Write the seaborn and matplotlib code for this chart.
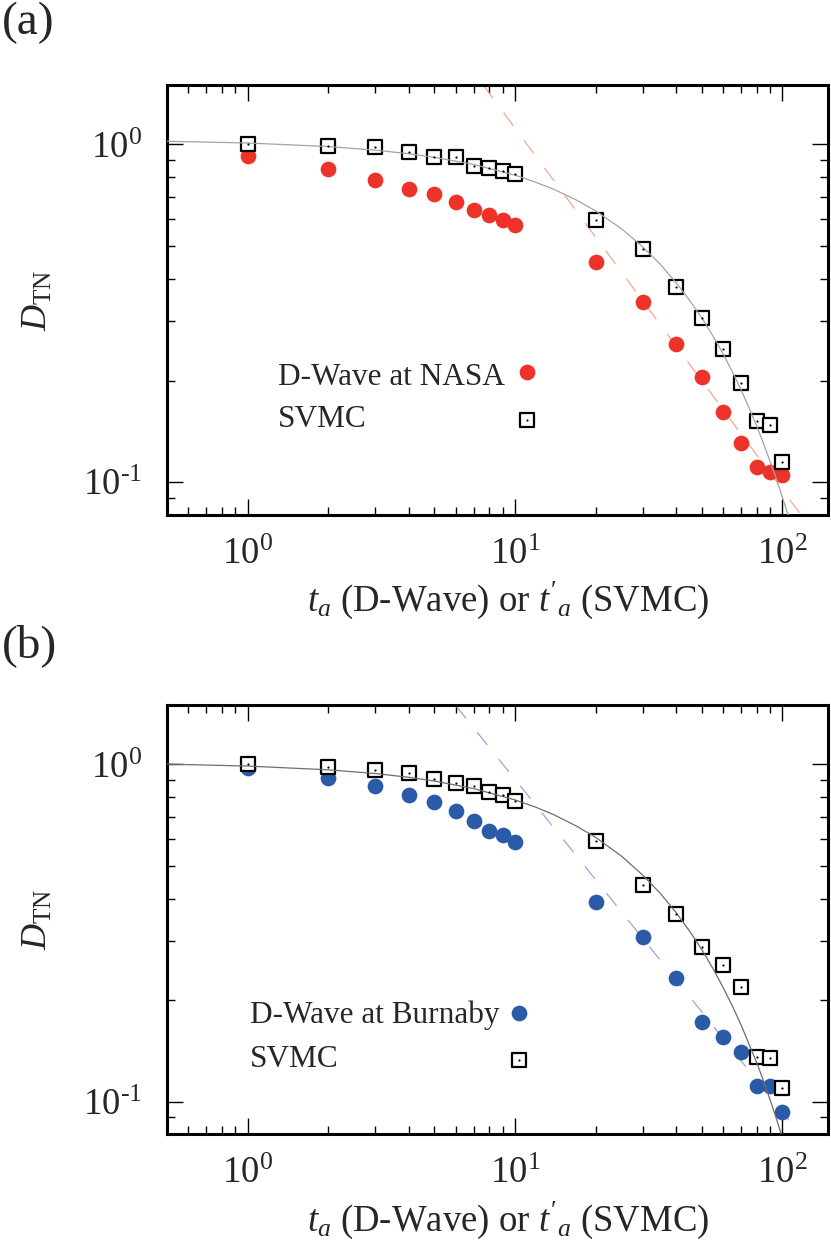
import numpy as np
import matplotlib
matplotlib.use("Agg")
import matplotlib.pyplot as plt
import matplotlib.ticker as mticker
import seaborn as sns

# DATA

t_vals = [1, 2, 3, 4, 5, 6, 7, 8, 9, 10, 20, 30, 40, 50, 60, 70, 80, 90, 100]

nasa_dtn = [0.923, 0.847, 0.783, 0.737, 0.714, 0.674, 0.640, 0.620, 0.596, 0.576,
            0.449, 0.342, 0.256, 0.205, 0.161, 0.131, 0.111, 0.107, 0.105]
svmc_a_dtn = [1.000, 0.990, 0.980, 0.950, 0.921, 0.917, 0.866, 0.853, 0.837, 0.818,
              0.599, 0.491, 0.379, 0.307, 0.248, 0.197, 0.152, 0.148, 0.115]

burnaby_dtn = [0.973, 0.909, 0.862, 0.811, 0.776, 0.728, 0.680, 0.634, 0.617, 0.588,
               0.392, 0.308, 0.233, 0.172, 0.156, 0.140, 0.111, 0.111, 0.093]
svmc_b_dtn = [1.000, 0.982, 0.962, 0.946, 0.906, 0.882, 0.862, 0.827, 0.811, 0.777,
              0.592, 0.440, 0.361, 0.288, 0.255, 0.219, 0.136, 0.135, 0.110]

# solid grey curves through the SVMC points
fit_a_x = [0.5, 1, 2, 3, 4, 5, 7, 10, 12, 14, 17, 20, 25, 30, 35, 40, 45, 50,
           55, 60, 65, 70, 75, 80, 85, 90, 95, 100, 106]
fit_a_y = [1.022, 1.010, 0.986, 0.962, 0.939, 0.916, 0.873, 0.811, 0.772, 0.736,
           0.684, 0.636, 0.563, 0.498, 0.441, 0.390, 0.345, 0.306, 0.271, 0.240,
           0.212, 0.188, 0.166, 0.147, 0.130, 0.115, 0.102, 0.090, 0.078]
fit_b_x = [0.5, 1, 2, 3, 4, 5, 7, 10, 12, 14, 17, 20, 25, 30, 35, 40, 45, 50,
           55, 60, 65, 70, 75, 80, 85, 90, 95, 100, 102]
fit_b_y = [1.002, 0.989, 0.964, 0.940, 0.916, 0.893, 0.848, 0.785, 0.746, 0.709,
           0.656, 0.608, 0.535, 0.470, 0.414, 0.364, 0.320, 0.282, 0.248, 0.218,
           0.192, 0.169, 0.148, 0.131, 0.115, 0.101, 0.0888, 0.078, 0.074]

# dashed power-law guides (end points)
guide_a_x = [7.6, 118]
guide_a_y = [1.50, 0.0795]
guide_b_x = [6.0, 116.5]
guide_b_y = [1.495, 0.080]

XLIM = (0.5, 148)
YLIM = (0.08, 1.5)

RED = "#ec3229"
BLUE = "#2a5aa8"
RED_DASH = "#f4a88c"
BLUE_DASH = "#9aa4dc"

# STYLE

sns.set_style("ticks")
plt.rcParams["font.family"] = ["Liberation Serif", "DejaVu Serif"]
plt.rcParams["mathtext.fontset"] = "custom"
plt.rcParams["mathtext.rm"] = "Liberation Serif"
plt.rcParams["mathtext.it"] = "Liberation Serif:italic"
plt.rcParams["mathtext.bf"] = "Liberation Serif:bold"
plt.rcParams["axes.unicode_minus"] = False


def tick_fmt(v, pos):
    e = int(round(np.log10(v)))
    if e < 0:
        return r"10$^{\text{-}%d}$" % (-e)
    return r"10$^{%d}$" % e


def style_axes(ax):
    ax.set_xscale("log")
    ax.set_yscale("log")
    ax.set_xlim(*XLIM)
    ax.set_ylim(*YLIM)
    ax.xaxis.set_major_locator(mticker.FixedLocator([1, 10, 100]))
    ax.yaxis.set_major_locator(mticker.FixedLocator([0.1, 1]))
    ax.xaxis.set_minor_locator(mticker.LogLocator(base=10, subs=np.arange(2, 10)))
    ax.yaxis.set_minor_locator(mticker.LogLocator(base=10, subs=np.arange(2, 10)))
    ax.xaxis.set_major_formatter(mticker.FuncFormatter(tick_fmt))
    ax.yaxis.set_major_formatter(mticker.FuncFormatter(tick_fmt))
    ax.xaxis.set_minor_formatter(mticker.NullFormatter())
    ax.yaxis.set_minor_formatter(mticker.NullFormatter())
    ax.tick_params(which="both", direction="in", top=True, right=True,
                   width=1.0, color="black")
    ax.tick_params(which="major", length=11.5)
    ax.tick_params(which="minor", length=5.5)
    ax.tick_params(axis="x", which="major", labelsize=26.5, pad=16)
    ax.tick_params(axis="y", which="major", labelsize=26.5, pad=18)
    for sp in ax.spines.values():
        sp.set_linewidth(2.2)
        sp.set_color("black")
    ax.set_xlabel(r"$t_a$ (D-Wave) or $t'_a$ (SVMC)", fontsize=26.5, labelpad=6)
    ax.xaxis.label.set_x(0.516)
    ax.set_ylabel(r"$D_{\mathrm{TN}}$", fontsize=26, labelpad=20)


def draw_panel(ax, dw_vals, sv_vals, fit_x, fit_y, guide_x, guide_y,
               dot_color, dash_color, fit_color, dw_label, legend_pos):
    sns.lineplot(x=guide_x, y=guide_y, ax=ax, color=dash_color, linewidth=0.9,
                 linestyle=(0, (13, 14.5)), estimator=None, sort=False, zorder=1)
    sns.scatterplot(x=t_vals, y=dw_vals, ax=ax, marker="o", s=128,
                    color=dot_color, linewidth=0, zorder=2)
    sns.scatterplot(x=t_vals, y=sv_vals, ax=ax, marker="s", s=100,
                    color="white", edgecolor="black", linewidth=1.6, zorder=3)
    sns.lineplot(x=fit_x, y=fit_y, ax=ax, color=fit_color, linewidth=0.9,
                 estimator=None, sort=False, zorder=4)
    sns.scatterplot(x=t_vals, y=sv_vals, ax=ax, marker="o", s=2.5,
                    color="black", linewidth=0, zorder=5)

    # gnuplot style key: text left, symbol right
    tx, mx, y1, y1m, y2, y2m = legend_pos
    ax.text(tx, y1, dw_label, transform=ax.transAxes, fontsize=22.5,
            ha="left", va="baseline")
    ax.text(tx, y2, "SVMC", transform=ax.transAxes, fontsize=22.5,
            ha="left", va="baseline")
    ax.scatter([mx], [y1m], transform=ax.transAxes, marker="o", s=128,
               color=dot_color, linewidth=0, zorder=6, clip_on=False)
    ax.scatter([mx], [y2m], transform=ax.transAxes, marker="s", s=100,
               facecolor="white", edgecolor="black", linewidth=1.6, zorder=6,
               clip_on=False)
    ax.scatter([mx], [y2m], transform=ax.transAxes, marker="o", s=2.5,
               color="black", linewidth=0, zorder=7, clip_on=False)
    style_axes(ax)


fig = plt.figure(figsize=(8.31, 12.59), dpi=100)
ax_a = fig.add_axes([0.2010, 0.5910, 0.7954, 0.3415])
ax_b = fig.add_axes([0.2010, 0.0990, 0.7954, 0.3410])

draw_panel(ax_a, nasa_dtn, svmc_a_dtn, fit_a_x, fit_a_y, guide_a_x, guide_a_y,
           RED, RED_DASH, "#a3a3a3", "D-Wave at NASA",
           (0.168, 0.544, 0.302, 0.332, 0.205, 0.221))
draw_panel(ax_b, burnaby_dtn, svmc_b_dtn, fit_b_x, fit_b_y, guide_b_x, guide_b_y,
           BLUE, BLUE_DASH, "#6e6e6e", "D-Wave at Burnaby",
           (0.125, 0.5325, 0.2586, 0.2818, 0.1575, 0.173))

fig.text(0.002, 0.999, "(a)", fontsize=34, ha="left", va="top")
fig.text(0.002, 0.5045, "(b)", fontsize=34, ha="left", va="top")

fig.savefig("out.png", dpi=100)
